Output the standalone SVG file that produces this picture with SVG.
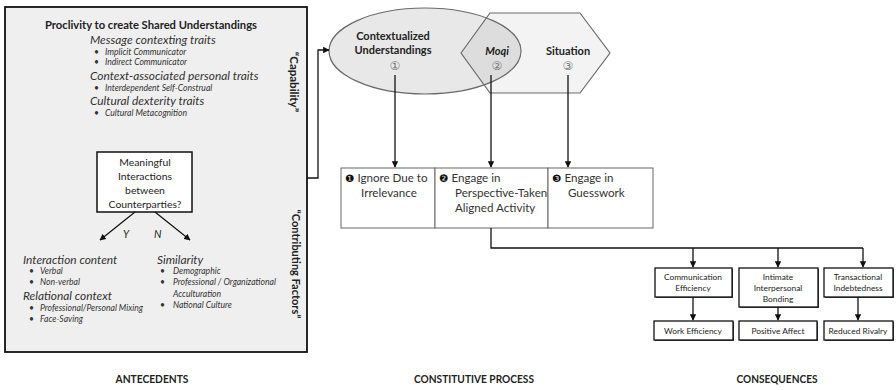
<svg xmlns="http://www.w3.org/2000/svg" width="896" height="390" viewBox="0 0 896 390">
<defs>
<marker id="ah" viewBox="0 0 10 10" refX="9" refY="5" markerWidth="5" markerHeight="5" orient="auto">
<path d="M0,0 L10,5 L0,10 z" fill="#111"/>
</marker>
<style>
text{font-family:Lato,"Open Sans","DejaVu Sans",sans-serif;fill:#222}
.b{font-weight:bold}
.i{font-style:italic}
.h{font-style:italic;font-size:11.9px;fill:#333}
.s{font-style:italic;font-size:8.6px;fill:#333}
.c{text-anchor:middle}
.conn{fill:none;stroke:#111;stroke-width:1.3}
.pbox{fill:#fff;stroke:#666;stroke-width:1}
.cbox{fill:#fff;stroke:#111;stroke-width:1.3}
.shadow{fill:#444}
.cs{font-size:8.4px;text-anchor:middle}
.pt{font-size:11.6px;fill:#333}
.num{fill:#777;font-size:12px;text-anchor:middle;font-family:"DejaVu Sans",sans-serif}
.foot{font-size:10.5px;font-weight:bold;text-anchor:middle}
</style>
</defs>
<rect width="896" height="390" fill="#fff"/>

<g id="antecedents">
<rect x="5" y="7" width="302" height="345" fill="#efefef" stroke="#111" stroke-width="1.8"/>
<text x="151" y="29" class="b c" font-size="11.2">Proclivity to create Shared Understandings</text>
<text x="90" y="44" class="h">Message contexting traits</text>
<text x="94" y="55" class="s">•</text><text x="105" y="55" class="s">Implicit Communicator</text>
<text x="94" y="65" class="s">•</text><text x="105" y="65" class="s">Indirect Communicator</text>
<text x="90" y="80" class="h">Context-associated personal traits</text>
<text x="94" y="91" class="s">•</text><text x="105" y="91" class="s">Interdependent Self-Construal</text>
<text x="90" y="105" class="h">Cultural dexterity traits</text>
<text x="94" y="116" class="s">•</text><text x="105" y="116" class="s">Cultural Metacognition</text>
<text transform="translate(290,82) rotate(90)" class="b c" font-size="11.5">“Capability”</text>
<text transform="translate(292,264) rotate(90)" class="b c" font-size="11">“Contributing Factors”</text>
</g>

<g id="meaningful">
<rect x="97" y="152" width="95" height="60" fill="#fff" stroke="#111" stroke-width="1.5"/>
<text x="145" y="166" class="c" font-size="10.4">Meaningful</text>
<text x="145" y="180" class="c" font-size="10.4">Interactions</text>
<text x="145" y="194" class="c" font-size="10.4">between</text>
<text x="145" y="208" class="c" font-size="10.4">Counterparties?</text>
</g>

<g id="y-branch">
<text x="123" y="238" class="i" font-size="10.5">Y</text>
<text x="23" y="264" class="h" font-size="11.5">Interaction content</text>
<text x="29" y="274" class="s">•</text><text x="40" y="274" class="s">Verbal</text>
<text x="29" y="285" class="s">•</text><text x="40" y="285" class="s">Non-verbal</text>
<text x="23" y="300" class="h" font-size="11.5">Relational context</text>
<text x="29" y="311" class="s">•</text><text x="40" y="311" class="s">Professional/Personal Mixing</text>
<text x="29" y="322" class="s">•</text><text x="40" y="322" class="s">Face-Saving</text>
</g>

<g id="n-branch">
<text x="154" y="238" class="i" font-size="10.5">N</text>
<text x="157" y="264" class="h" font-size="11.5">Similarity</text>
<text x="160" y="274" class="s">•</text><text x="173" y="274" class="s">Demographic</text>
<text x="160" y="285" class="s">•</text><text x="173" y="285" class="s">Professional / Organizational</text>
<text x="173" y="297" class="s">Acculturation</text>
<text x="160" y="308" class="s">•</text><text x="173" y="308" class="s">National Culture</text>
</g>

<g id="situation">
<polygon points="461,53 490,13 580,13 610,53 580,93 490,93" fill="#f3f3f3"/>
</g>
<g id="contextualized">
<ellipse cx="425" cy="51" rx="96" ry="43" fill="#000" fill-opacity="0.09" stroke="#6a6a6a" stroke-width="1.2"/>
</g>
<g id="moqi-outline">
<polygon points="461,53 490,13 580,13 610,53 580,93 490,93" fill="none" stroke="#6a6a6a" stroke-width="1.2"/>
</g>
<g id="labels-top">
<text x="393" y="40" class="b c" font-size="11">Contextualized</text>
<text x="393" y="54" class="b c" font-size="11">Understandings</text>
<text x="395" y="70" class="num">①</text>
<text x="497" y="55" class="b i c" font-size="11">Moqi</text>
<text x="497" y="70" class="num">②</text>
<text x="568" y="55" class="b c" font-size="11">Situation</text>
<text x="568" y="70" class="num">③</text>
</g>

<g id="process">
<rect x="341" y="168" width="94" height="60" class="pbox"/>
<rect x="435" y="168" width="113" height="60" class="pbox"/>
<rect x="548" y="168" width="105" height="60" class="pbox"/>
<text x="345" y="182" class="pt"><tspan font-family="DejaVu Sans" font-size="10.5" fill="#111">❶</tspan> Ignore Due to</text>
<text x="361" y="197" class="pt">Irrelevance</text>
<text x="439" y="182" class="pt"><tspan font-family="DejaVu Sans" font-size="10.5" fill="#111">❷</tspan> Engage in</text>
<text x="455" y="197" class="pt">Perspective-Taken</text>
<text x="455" y="212" class="pt">Aligned Activity</text>
<text x="552" y="182" class="pt"><tspan font-family="DejaVu Sans" font-size="10.5" fill="#111">❸</tspan> Engage in</text>
<text x="568" y="197" class="pt">Guesswork</text>
</g>

<g id="consequences">
<rect x="656" y="269" width="77" height="29" class="shadow"/>
<rect x="655" y="268" width="77" height="29" class="cbox"/>
<text x="693" y="280" class="cs">Communication</text>
<text x="693" y="291" class="cs">Efficiency</text>
<rect x="740" y="269" width="79" height="39" class="shadow"/>
<rect x="739" y="268" width="79" height="39" class="cbox"/>
<text x="778" y="280" class="cs">Intimate</text>
<text x="778" y="291" class="cs">Interpersonal</text>
<text x="778" y="302" class="cs">Bonding</text>
<rect x="825" y="269" width="69" height="29" class="shadow"/>
<rect x="824" y="268" width="69" height="29" class="cbox"/>
<text x="858" y="280" class="cs">Transactional</text>
<text x="858" y="291" class="cs">Indebtedness</text>
<rect x="655" y="322" width="79" height="19" class="shadow"/>
<rect x="654" y="321" width="79" height="19" class="cbox"/>
<text x="693" y="334" class="cs">Work Efficiency</text>
<rect x="740" y="322" width="78" height="19" class="shadow"/>
<rect x="739" y="321" width="78" height="19" class="cbox"/>
<text x="778" y="334" class="cs">Positive Affect</text>
<rect x="825" y="322" width="69" height="19" class="shadow"/>
<rect x="824" y="321" width="69" height="19" class="cbox"/>
<text x="858" y="334" class="cs">Reduced Rivalry</text>
</g>

<g id="connectors">
<path d="M307,178 H318 V50 H329" class="conn" marker-end="url(#ah)"/>
<path d="M135,212 L100,240" class="conn" marker-end="url(#ah)"/>
<path d="M155,212 L190,240" class="conn" marker-end="url(#ah)"/>
<path d="M395,75 V167" class="conn" marker-end="url(#ah)"/>
<path d="M491,75 V167" class="conn" marker-end="url(#ah)"/>
<path d="M568,75 V167" class="conn" marker-end="url(#ah)"/>
<path d="M491,228 V248 H863" class="conn"/>
<path d="M693,248 V267" class="conn" marker-end="url(#ah)"/>
<path d="M778,248 V267" class="conn" marker-end="url(#ah)"/>
<path d="M863,248 V267" class="conn" marker-end="url(#ah)"/>
<path d="M693,297 V320" class="conn" marker-end="url(#ah)"/>
<path d="M778,307 V320" class="conn" marker-end="url(#ah)"/>
<path d="M858,297 V320" class="conn" marker-end="url(#ah)"/>
</g>

<g id="footer">
<text x="152" y="383" class="foot" textLength="73" lengthAdjust="spacingAndGlyphs">ANTECEDENTS</text>
<text x="474" y="383" class="foot" textLength="120" lengthAdjust="spacingAndGlyphs">CONSTITUTIVE PROCESS</text>
<text x="777" y="383" class="foot" textLength="81" lengthAdjust="spacingAndGlyphs">CONSEQUENCES</text>
</g>
</svg>
